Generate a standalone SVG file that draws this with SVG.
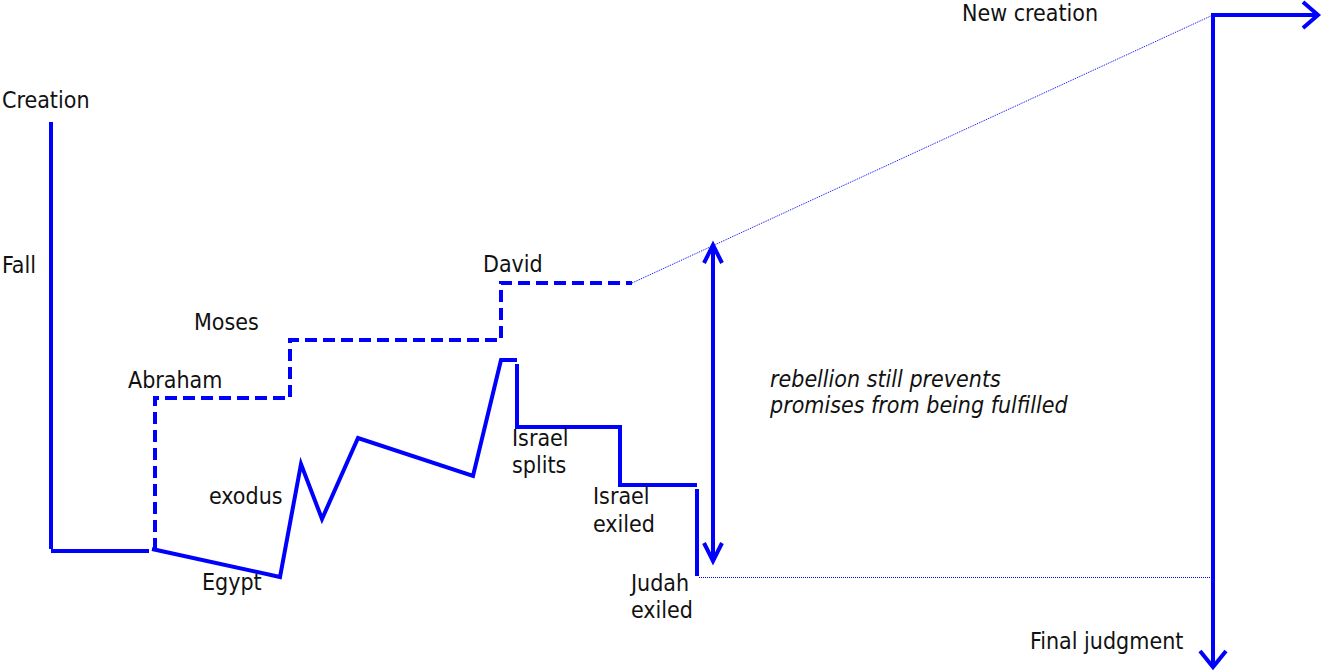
<svg xmlns="http://www.w3.org/2000/svg" width="1322" height="672" viewBox="0 0 1322 672">
<style>
text{font-family:"DejaVu Sans Condensed","DejaVu Sans",sans-serif;font-stretch:condensed;font-size:23px;fill:#111}
.it{font-style:italic}
.s{fill:none;stroke:#0000ff;stroke-width:4;stroke-linejoin:miter;stroke-linecap:butt}
.d{fill:none;stroke:#0000ff;stroke-width:4;stroke-dasharray:12 6}
.dot{fill:none;stroke:#0000ff;stroke-width:1;stroke-dasharray:1 1}
</style>
<rect width="1322" height="672" fill="#fff"/>
<g id="connectors">
<path class="s" d="M51 122V549"/>
<path class="s" d="M51 551H149"/>
<path class="d" d="M155 550V398H290V340H501V283H632"/>
<path class="s" d="M152 549L280 577L301 464L322 519L358 438L473 476L501 360H517"/>
<path class="s" d="M517 364V427H620V485H697"/>
<path class="s" d="M697 489V576"/>
<path class="dot" d="M632 283L1213 15"/>
<path class="dot" d="M699 577.5H1211"/>
<path class="s" d="M713 245V561M704 263L713 245L722 263M704 543L713 561L722 543"/>
<path class="s" d="M1213 667V15H1318M1200 651L1213 667L1226 651M1303 2L1318 15L1303 28"/>
</g>
<g id="creation"><text x="2" y="108">Creation</text></g>
<g id="fall"><text x="2" y="273">Fall</text></g>
<g id="abraham"><text x="128" y="388">Abraham</text></g>
<g id="moses"><text x="194" y="330">Moses</text></g>
<g id="david"><text x="483" y="272">David</text></g>
<g id="exodus"><text x="209" y="504">exodus</text></g>
<g id="egypt"><text x="202" y="590">Egypt</text></g>
<g id="israel-splits"><text x="512" y="446">Israel</text><text x="512" y="473">splits</text></g>
<g id="israel-exiled"><text x="593" y="504">Israel</text><text x="593" y="532">exiled</text></g>
<g id="judah-exiled"><text x="631" y="591">Judah</text><text x="631" y="618">exiled</text></g>
<g id="new-creation"><text x="962" y="21">New creation</text></g>
<g id="final-judgment"><text x="1030" y="649">Final judgment</text></g>
<g id="rebellion"><text class="it" x="770" y="387">rebellion still prevents</text><text class="it" x="770" y="413">promises from being fulfilled</text></g>
</svg>
